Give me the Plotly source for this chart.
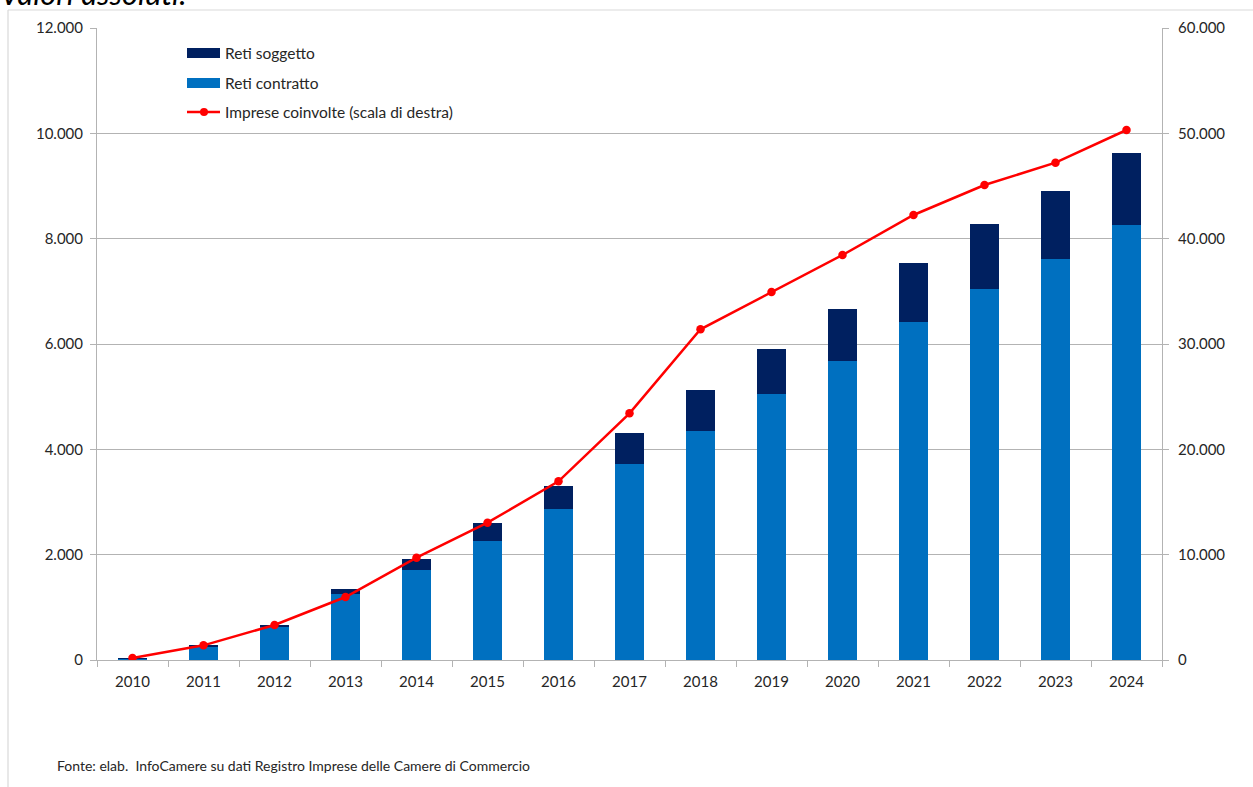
import plotly.graph_objects as go

years = ["2010", "2011", "2012", "2013", "2014", "2015", "2016", "2017",
         "2018", "2019", "2020", "2021", "2022", "2023", "2024"]
reti_contratto = [30, 262, 640, 1259, 1709, 2259, 2861, 3716, 4354, 5044,
                  5683, 6417, 7044, 7614, 8259]
reti_soggetto = [2, 4, 12, 83, 209, 336, 449, 600, 772, 855,
                 975, 1115, 1240, 1297, 1368]
imprese = [190, 1392, 3323, 5981, 9713, 13035, 16965, 23420, 31395, 34937,
           38450, 42248, 45097, 47215, 50317]

name_sogg = "Reti soggetto"
name_contr = "Reti contratto"
name_imp = "Imprese coinvolte (scala di destra)"
title_text = "Valori assoluti."
source_text = "Fonte: elab.  InfoCamere su dati Registro Imprese delle Camere di Commercio"

C_CONTR = "#0070C0"
C_SOGG = "#002060"
C_LINE = "#FF0000"
GRID = "#B3B3B3"
FONT = "Lato"
TXT = "#262626"

W, H = 1253, 787
L, R, T, B = 97, 1162, 28, 660


def px(x):
    return (x - L) / (R - L)


def py(y):
    return (B - y) / (B - T)


fig = go.Figure()
fig.add_trace(go.Bar(x=years, y=reti_contratto, name=name_contr,
                     marker=dict(color=C_CONTR, line=dict(width=0)),
                     showlegend=False))
fig.add_trace(go.Bar(x=years, y=reti_soggetto, name=name_sogg,
                     marker=dict(color=C_SOGG, line=dict(width=0)),
                     showlegend=False))
fig.add_trace(go.Scatter(x=years, y=imprese, name=name_imp, yaxis="y2",
                         mode="lines+markers",
                         line=dict(color=C_LINE, width=2.5),
                         marker=dict(color=C_LINE, size=8.5),
                         showlegend=False))

shapes = []
annotations = []

# frame
shapes.append(dict(type="line", xref="paper", yref="paper",
                   x0=px(8), x1=px(1260), y0=py(10), y1=py(10),
                   line=dict(color="#D9D9D9", width=1.2)))
shapes.append(dict(type="line", xref="paper", yref="paper",
                   x0=px(8), x1=px(8), y0=py(10), y1=py(800),
                   line=dict(color="#D9D9D9", width=1.2)))

# custom legend
shapes.append(dict(type="rect", xref="paper", yref="paper",
                   x0=px(187), x1=px(220), y0=py(58), y1=py(48),
                   fillcolor=C_SOGG, line=dict(width=0)))
shapes.append(dict(type="rect", xref="paper", yref="paper",
                   x0=px(187), x1=px(220), y0=py(88), y1=py(78),
                   fillcolor=C_CONTR, line=dict(width=0)))
shapes.append(dict(type="line", xref="paper", yref="paper",
                   x0=px(187), x1=px(220), y0=py(112), y1=py(112),
                   line=dict(color=C_LINE, width=2.5)))
shapes.append(dict(type="circle", xref="paper", yref="paper",
                   x0=px(200), x1=px(208), y0=py(116), y1=py(108),
                   fillcolor=C_LINE, line=dict(width=0)))
for label, yy in [(name_sogg, 53), (name_contr, 83), (name_imp, 112)]:
    annotations.append(dict(text=label, xref="paper", yref="paper",
                            x=px(223), y=py(yy), xanchor="left",
                            yanchor="middle", showarrow=False,
                            font=dict(family=FONT, size=15.5, color=TXT)))

annotations.append(dict(text=title_text, xref="paper", yref="paper",
                        x=px(-2), y=py(-7), xanchor="left", yanchor="middle",
                        showarrow=False,
                        font=dict(family=FONT, size=31, color="#000000",
                                  style="italic")))
annotations.append(dict(text=source_text, xref="paper", yref="paper",
                        x=px(55), y=py(765), xanchor="left", yanchor="middle",
                        showarrow=False,
                        font=dict(family=FONT, size=14, color=TXT)))

fig.update_layout(
    width=W, height=H,
    margin=dict(l=L, r=W - R, t=T, b=H - B, pad=0),
    paper_bgcolor="white", plot_bgcolor="white",
    barmode="stack", bargap=0.59,
    separators=",.",
    font=dict(family=FONT, size=15, color=TXT),
    showlegend=False,
    xaxis=dict(type="category", range=[-0.5, len(years) - 0.5],
               showline=True, linecolor=GRID, linewidth=1,
               ticks="outside", tickson="boundaries", ticklen=6,
               tickcolor=GRID, showgrid=False, ticklabelstandoff=8,
               tickfont=dict(family=FONT, size=15, color=TXT)),
    yaxis=dict(range=[0, 12000], dtick=2000, tickformat=",d",
               showgrid=True, gridcolor=GRID, gridwidth=1,
               showline=True, linecolor=GRID, ticks="outside", ticklen=6,
               tickcolor=GRID, zeroline=False, ticklabelstandoff=4,
               tickfont=dict(family=FONT, size=15, color=TXT)),
    yaxis2=dict(range=[0, 60000], dtick=10000, tickformat=",d",
                overlaying="y", side="right", showgrid=False,
                showline=True, linecolor=GRID, ticks="outside", ticklen=6,
                tickcolor=GRID, zeroline=False, ticklabelstandoff=6,
                tickfont=dict(family=FONT, size=15, color=TXT)),
    shapes=shapes, annotations=annotations,
)

fig.write_html("out.html",
               config={"displayModeBar": False},
               post_script="document.body.style.margin='0';"
                           "document.body.style.overflow='hidden';")
